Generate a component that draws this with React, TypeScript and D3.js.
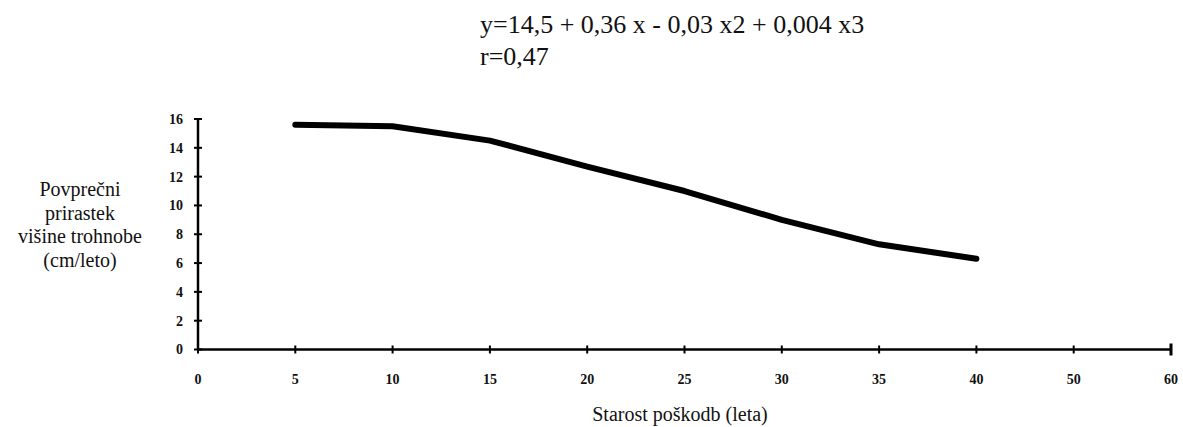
import React from "react";
import * as d3 from "d3";

const xTickLabels = ["0", "5", "10", "15", "20", "25", "30", "35", "40", "50", "60"];
const ages = ["5", "10", "15", "20", "25", "30", "35", "40"];
const growth = [15.6, 15.5, 14.5, 12.7, 11.0, 9.0, 7.3, 6.3];
const yTicks = [0, 2, 4, 6, 8, 10, 12, 14, 16];
const equationLines = ["y=14,5 + 0,36 x - 0,03 x2 + 0,004 x3", "r=0,47"];
const yTitleLines = ["Povprečni", "prirastek", "višine trohnobe", "(cm/leto)"];
const xTitle = "Starost poškodb (leta)";

const W = 1183;
const H = 427;
const FONT = "'Liberation Serif', 'Times New Roman', serif";

export default function App() {
  const x = d3.scalePoint<string>().domain(xTickLabels).range([198, 1171]);
  const y = d3.scaleLinear().domain([0, 16]).range([349.5, 119]);
  const pts: [number, number][] = ages.map((a, i) => [x(a) as number, y(growth[i])]);
  const line = d3.line<[number, number]>().curve(d3.curveLinear)(pts) || "";
  const x0 = x("0") as number;
  const x1 = x("60") as number;
  const y0 = y(0);
  const yTop = y(16);

  return (
    <svg
      width={W}
      height={H}
      style={{ position: "absolute", left: 0, top: 0, background: "#fff" }}
      fontFamily={FONT}
    >
      <rect width={W} height={H} fill="#fff" />
      {equationLines.map((t, i) => (
        <text key={t} x={480} y={33 + i * 32} fontSize={26} fill="#111">
          {t}
        </text>
      ))}
      {yTitleLines.map((t, i) => (
        <text key={t} x={80} y={196 + i * 23.5} fontSize={20} textAnchor="middle" fill="#111">
          {t}
        </text>
      ))}
      <line x1={x0} x2={x0} y1={yTop} y2={y0} stroke="#000" strokeWidth={2.5} />
      <line x1={x0} x2={x1} y1={y0} y2={y0} stroke="#000" strokeWidth={2.5} />
      {yTicks.map((v) => (
        <g key={v}>
          <line x1={x0 - 4} x2={x0 + 4} y1={y(v)} y2={y(v)} stroke="#000" strokeWidth={2} />
          <text
            x={183}
            y={y(v)}
            dy="0.35em"
            textAnchor="end"
            fontSize={14}
            fontWeight="bold"
            fill="#111"
          >
            {v}
          </text>
        </g>
      ))}
      {xTickLabels.map((c) => (
        <g key={c}>
          <line
            x1={x(c)}
            x2={x(c)}
            y1={y0 - (c === "60" ? 6 : 4)}
            y2={y0 + (c === "60" ? 6 : 4)}
            stroke="#000"
            strokeWidth={c === "60" ? 3 : 2}
          />
          <text
            x={x(c)}
            y={384}
            textAnchor="middle"
            fontSize={14}
            fontWeight="bold"
            fill="#111"
          >
            {c}
          </text>
        </g>
      ))}
      <text x={680} y={421} textAnchor="middle" fontSize={20} fill="#111">
        {xTitle}
      </text>
      <path
        d={line}
        fill="none"
        stroke="#000"
        strokeWidth={6}
        strokeLinecap="round"
        strokeLinejoin="round"
      />
    </svg>
  );
}
